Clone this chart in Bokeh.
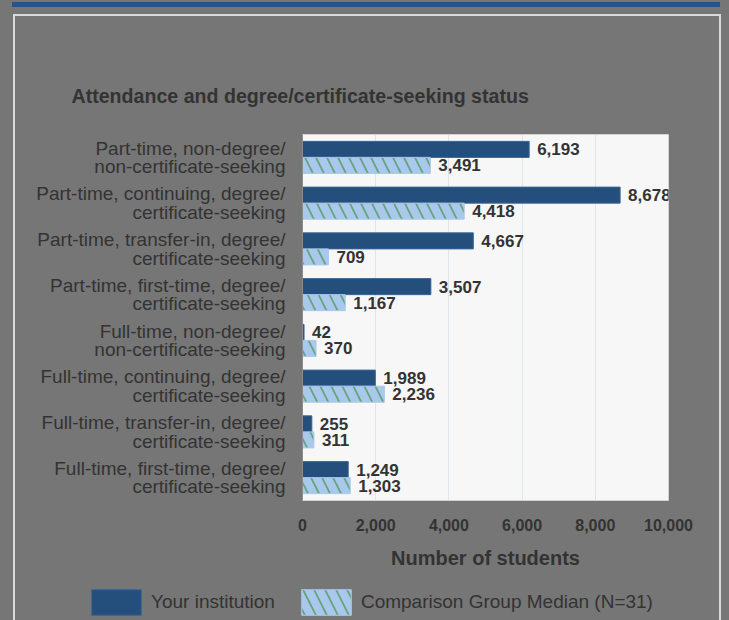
from bokeh.plotting import figure
from bokeh.layouts import column
from bokeh.models import (ColumnDataSource, LabelSet, Legend, LegendItem, FixedTicker,
                          NumeralTickFormatter, Range1d, Title)
from bokeh.core.properties import value
from bokeh.embed import file_html
from bokeh.resources import INLINE

# ---- data ----
categories = [
    "Part-time, non-degree/\nnon-certificate-seeking",
    "Part-time, continuing, degree/\ncertificate-seeking",
    "Part-time, transfer-in, degree/\ncertificate-seeking",
    "Part-time, first-time, degree/\ncertificate-seeking",
    "Full-time, non-degree/\nnon-certificate-seeking",
    "Full-time, continuing, degree/\ncertificate-seeking",
    "Full-time, transfer-in, degree/\ncertificate-seeking",
    "Full-time, first-time, degree/\ncertificate-seeking",
]
institution = [6193, 8678, 4667, 3507, 42, 1989, 255, 1249]
median = [3491, 4418, 709, 1167, 370, 2236, 311, 1303]
x_ticks = [0, 2000, 4000, 6000, 8000, 10000]
series_names = ["Your institution", "Comparison Group Median (N=31)"]
title_text = "Attendance and degree/certificate-seeking status"
x_label = "Number of students"

# ---- styling ----
BG = "#767676"
TXT = "#333333"
FONT = "Liberation Sans"
DARK = "#244f7d"
DARK_LINE = "#3a6494"
LIGHT = "#a9c8ec"
HATCH = "#4c9a55"
OFF = 0.175
BAR_H = 0.35

inst_style = dict(fill_color=DARK, line_color=DARK_LINE, line_width=1)
med_style = dict(fill_color=LIGHT, line_color=LIGHT, line_width=1,
                 hatch_pattern="\\", hatch_color=HATCH, hatch_scale=22,
                 hatch_weight=1.8, hatch_alpha=0.75)

n = len(categories)
pos = [n - 1 - i for i in range(n)]

src_inst = ColumnDataSource(dict(
    y=[p_ + OFF for p_ in pos], v=institution,
    lab=[f"{v:,}" for v in institution]))
src_med = ColumnDataSource(dict(
    y=[p_ - OFF for p_ in pos], v=median,
    lab=[f"{v:,}" for v in median]))

p = figure(width=729, height=580,
           x_range=Range1d(0, 10000), y_range=Range1d(-0.5, n - 0.5),
           output_backend="svg", toolbar_location=None,
           min_border_left=302, min_border_right=61,
           min_border_top=134, min_border_bottom=80,
           background_fill_color="#f7f7f7", border_fill_alpha=0,
           outline_line_color="#d3d3d3")
p.frame_align = False

r1 = p.hbar(y="y", right="v", left=0, height=BAR_H, source=src_inst, **inst_style)
r2 = p.hbar(y="y", right="v", left=0, height=BAR_H, source=src_med, **med_style)

for src in (src_inst, src_med):
    p.add_layout(LabelSet(x="v", y="y", text="lab", source=src,
                          x_offset=8, text_baseline="middle", text_align="left",
                          text_font=value(FONT), text_font_size="17px",
                          text_font_style="bold", text_color=TXT))

# title
p.add_layout(Title(text=title_text, align="left", offset=-231, standoff=56,
                   text_font=FONT, text_font_size="19.6px", text_font_style="bold",
                   text_color=TXT), "above")

# x axis
xa = p.xaxis[0]
xa.ticker = FixedTicker(ticks=x_ticks)
xa.formatter = NumeralTickFormatter(format="0,0")
xa.axis_line_color = None
xa.major_tick_line_color = None
xa.minor_tick_line_color = None
xa.major_tick_out = 0
xa.major_tick_in = 0
xa.major_label_standoff = 18
xa.major_label_text_font = FONT
xa.major_label_text_font_size = "16px"
xa.major_label_text_font_style = "bold"
xa.major_label_text_color = TXT
xa.axis_label = x_label
xa.axis_label_standoff = 13
xa.axis_label_text_font = FONT
xa.axis_label_text_font_size = "20px"
xa.axis_label_text_font_style = "bold"
xa.axis_label_text_color = TXT

# y axis
ya = p.yaxis[0]
ya.ticker = FixedTicker(ticks=pos)
ya.major_label_overrides = {pp: lab for pp, lab in zip(pos, categories)}
ya.axis_line_color = "#8c8c8c"
ya.major_tick_line_color = None
ya.minor_tick_line_color = None
ya.major_tick_out = 0
ya.major_tick_in = 0
ya.major_label_standoff = 17
ya.major_label_text_font = FONT
ya.major_label_text_font_size = "19px"
ya.major_label_text_color = TXT
ya.major_label_text_line_height = 0.88

p.xgrid.ticker = FixedTicker(ticks=x_ticks)
p.xgrid.grid_line_color = "#dde5ef"
p.ygrid.grid_line_color = None

# ---- legend strip (separate small figure so the legend is not clipped) ----
lf = figure(width=729, height=40, output_backend="svg", toolbar_location=None,
            x_range=Range1d(0, 1), y_range=Range1d(100, 101),
            x_axis_location=None, y_axis_location=None, min_border=0,
            background_fill_alpha=0, border_fill_alpha=0, outline_line_color=None)
lf.frame_align = False
lf.xgrid.grid_line_color = None
lf.ygrid.grid_line_color = None
lr1 = lf.hbar(y="y", right="v", left=0, height=BAR_H, source=src_inst, **inst_style)
lr2 = lf.hbar(y="y", right="v", left=0, height=BAR_H, source=src_med, **med_style)
legend = Legend(items=[LegendItem(label=series_names[0], renderers=[lr1]),
                       LegendItem(label=series_names[1], renderers=[lr2])],
                orientation="horizontal", location=(85, 2),
                glyph_width=62, glyph_height=32, label_height=32,
                label_standoff=4, spacing=20, padding=0, margin=0,
                border_line_alpha=0, background_fill_alpha=0,
                label_text_font=FONT, label_text_font_size="19px",
                label_text_color=TXT)
lf.add_layout(legend)

page = column(p, lf, spacing=0)
# page decorations: blue strip and light panel border (CSS background of the layout element)
page.styles = {
    "background-color": BG,
    "background-image": ("linear-gradient(#2b5189,#2b5189), linear-gradient(#d9d9d9,#d9d9d9), "
                         "linear-gradient(#d9d9d9,#d9d9d9), linear-gradient(#d9d9d9,#d9d9d9)"),
    "background-size": "708px 5px, 708px 2px, 2px 620px, 2px 620px",
    "background-position": "12px 2px, 13px 14px, 13px 14px, 719px 14px",
    "background-repeat": "no-repeat",
}

open("out.html", "w").write(file_html(page, INLINE))
